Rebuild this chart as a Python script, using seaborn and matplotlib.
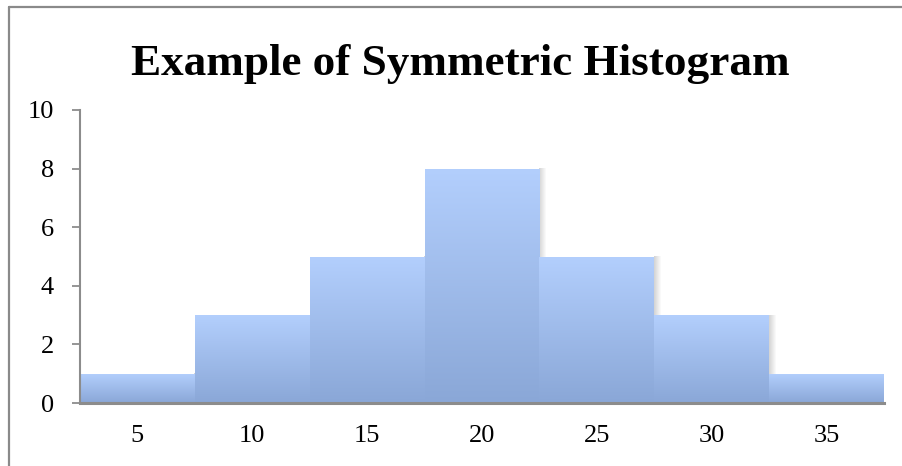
import numpy as np
import pandas as pd
import matplotlib
matplotlib.use("Agg")
import matplotlib.pyplot as plt
import seaborn as sns
from matplotlib.patches import Rectangle
from matplotlib.lines import Line2D
from matplotlib.colors import LinearSegmentedColormap

# ---- data ----
bin_centers = [5, 10, 15, 20, 25, 30, 35]
counts = [1, 3, 5, 8, 5, 3, 1]
y_ticks = [0, 2, 4, 6, 8, 10]
title = "Example of Symmetric Histogram"

sns.set_theme(style="white")
plt.rcParams['font.family'] = ['Liberation Serif', 'DejaVu Serif']

W, H = 902, 466
fig = plt.figure(figsize=(W / 100, H / 100), dpi=100)
fig.patch.set_facecolor("white")
ax = fig.add_axes([80 / W, 1 - 403 / H, 804 / W, 293 / H])

df = pd.DataFrame({"value": bin_centers, "count": counts})
sns.histplot(data=df, x="value", weights="count", binwidth=5,
             binrange=(2.5, 37.5), ax=ax, color="#b3cffd",
             edgecolor="none", linewidth=0, alpha=1)

cmap = LinearSegmentedColormap.from_list("g", ["#8aa7d7", "#b3cffd"])
grad = np.linspace(0, 1, 256).reshape(-1, 1)
for p in list(ax.patches):
    x, w, h = p.get_x(), p.get_width(), p.get_height()
    p.set_zorder(2)
    im = ax.imshow(grad, extent=[x, x + w, 0, h], origin="lower",
                   cmap=cmap, aspect="auto", zorder=2.1)
    im.set_clip_path(p)
    # soft shadow on the right
    for k in np.linspace(0.04, 0.30, 7):
        ax.add_patch(Rectangle((x + w - 0.02, 0), k, h + 0.02, color="black",
                               alpha=0.022, linewidth=0, zorder=1.5))

ax.set_xlim(2.5, 37.5)
ax.set_ylim(0, 10)
ax.set_xticks(bin_centers)
ax.set_xticklabels([str(v) for v in bin_centers])
ax.set_yticks(y_ticks)
ax.set_yticklabels([str(v) for v in y_ticks])
ax.set_xlabel("")
ax.set_ylabel("")
ax.grid(False)

for s in ["top", "right"]:
    ax.spines[s].set_visible(False)
ax.spines["left"].set_color("#8c8c8c")
ax.spines["left"].set_linewidth(1.5)
ax.spines["bottom"].set_color("#8c8c8c")
ax.spines["bottom"].set_linewidth(2.2)
ax.spines["bottom"].set_zorder(3)

ax.tick_params(axis="y", direction="out", length=5.8, width=1.3,
               color="#8c8c8c", pad=13, labelsize=19, labelcolor="black",
               left=True)
ax.tick_params(axis="x", length=0, pad=16, labelsize=19, labelcolor="black")

fig.text(460 / W, 1 - 75 / H, title, ha="center", va="baseline",
         fontsize=32.5, fontweight="bold", color="black",
         family=['Liberation Serif', 'DejaVu Serif'])

# outer frame (top and left edges visible)
fig.add_artist(Line2D([8.5 / W, 1], [1 - 7 / H, 1 - 7 / H],
                      transform=fig.transFigure, color="#8a8a8a", lw=1.6))
fig.add_artist(Line2D([8.5 / W, 8.5 / W], [0, 1 - 7 / H],
                      transform=fig.transFigure, color="#8a8a8a", lw=1.6))

fig.savefig("out.png", dpi=100)
